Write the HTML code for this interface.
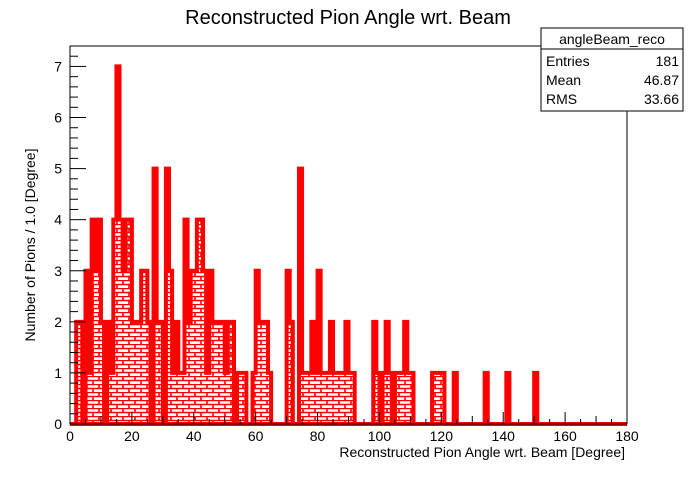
<!DOCTYPE html>
<html><head><meta charset="utf-8"><style>
body{margin:0;background:#fff;}
svg text{font-family:"Liberation Sans",sans-serif;}
</style></head><body>
<svg id="chart" width="696" height="472" viewBox="0 0 696 472" xmlns="http://www.w3.org/2000/svg">
<defs>
<pattern id="brick" width="12" height="8" patternUnits="userSpaceOnUse">
<rect width="12" height="8" fill="#fff"/>
<path d="M0 0.5H12M0 4.5H12M3 0V4M9 4V8" stroke="#f00" stroke-width="1.6" fill="none"/>
</pattern>
</defs>
<text x="348" y="24" font-size="20" text-anchor="middle">Reconstructed Pion Angle wrt. Beam</text>
<g id="plot"></g>
<rect x="70" y="46" width="557" height="378" fill="none" stroke="#000" stroke-width="1"/>
<text transform="translate(35,245) rotate(-90)" font-size="14" text-anchor="middle">Number of Pions / 1.0 [Degree]</text>
<text x="625" y="457" font-size="14" text-anchor="end">Reconstructed Pion Angle wrt. Beam [Degree]</text>
<g>
<rect x="541" y="28" width="142" height="83" fill="#fff" stroke="#000"/>
<line x1="541" y1="49" x2="683" y2="49" stroke="#000"/>
<text x="612" y="44" font-size="14" text-anchor="middle">angleBeam_reco</text>
<text x="546" y="66" font-size="14">Entries</text><text x="679" y="66" font-size="14" text-anchor="end">181</text>
<text x="546" y="85" font-size="14">Mean</text><text x="679" y="85" font-size="14" text-anchor="end">46.87</text>
<text x="546" y="104" font-size="14">RMS</text><text x="679" y="104" font-size="14" text-anchor="end">33.66</text>
</g>
</svg>
<script>
const counts = [0,
0,2,2,0,3,1,4,3,4,2,
0,2,1,4,7,4,3,4,4,2,
2,2,3,3,2,0,5,2,2,0,
5,3,1,2,1,1,4,2,3,3,
4,4,3,1,3,2,2,2,2,1,
2,2,0,1,1,1,0,0,1,3,
2,2,2,1,0,0,0,0,0,3,
2,0,0,5,1,1,1,2,1,3,
1,1,1,2,1,1,1,1,2,1,
1,0,0,0,0,0,0,2,1,0,
1,2,1,0,1,1,1,2,1,1,
0,0,0,0,0,0,1,1,1,1,
0,0,0,1,0,0,0,0,0,0,
0,0,0,1,0,0,0,0,0,0,
1,0,0,0,0,0,0,0,0,1,
0,0,0,0,0,0,0,0,0,0,
0,0,0,0,0,0,0,0,0,0,
0,0,0,0,0,0,0,0,0];
const xTicks = [0,20,40,60,80,100,120,140,160,180];
const yTicks = [0,1,2,3,4,5,6,7];
const X0=70,X1=627,Y0=424,Y1=46,XMAX=180,YMAX=7.4;
const sx=v=>X0+(X1-X0)*v/XMAX;
const sy=v=>Y0-(Y0-Y1)*v/YMAX;
const NS='http://www.w3.org/2000/svg';
const g=document.getElementById('plot');
function mk(t,a){const e=document.createElementNS(NS,t);for(const k in a)e.setAttribute(k,a[k]);g.appendChild(e);return e;}
let d='M'+sx(0)+' '+sy(0);
counts.forEach((c,i)=>{d+=' L'+sx(i)+' '+sy(c)+' L'+sx(i+1)+' '+sy(c);});
d+=' L'+sx(counts.length)+' '+sy(0)+' Z';
const fillEl=mk('path',{d:d,fill:'url(#brick)',stroke:'none'});


const line=mk('path',{d:d,fill:'none',stroke:'#f00','stroke-width':4,'stroke-linejoin':'miter'});


for(let v=0;v<=XMAX;v+=5){const L=v%20==0?12:(v%10==0?8:5);mk('line',{x1:sx(v),x2:sx(v),y1:Y0,y2:Y0-L,stroke:'#000'});}
xTicks.forEach(v=>{const t=mk('text',{x:sx(v),y:441,'font-size':14,'text-anchor':'middle'});t.textContent=v;

});
for(let v=0;v<=YMAX;v+=0.2){const L=Math.abs(v-Math.round(v))<0.01?16:8;mk('line',{x1:X0,x2:X0+L,y1:sy(v),y2:sy(v),stroke:'#000'});}
yTicks.forEach(v=>{const t=mk('text',{x:62,y:sy(v)+5,'font-size':14,'text-anchor':'end'});t.textContent=v;

});
</script>
</body></html>
